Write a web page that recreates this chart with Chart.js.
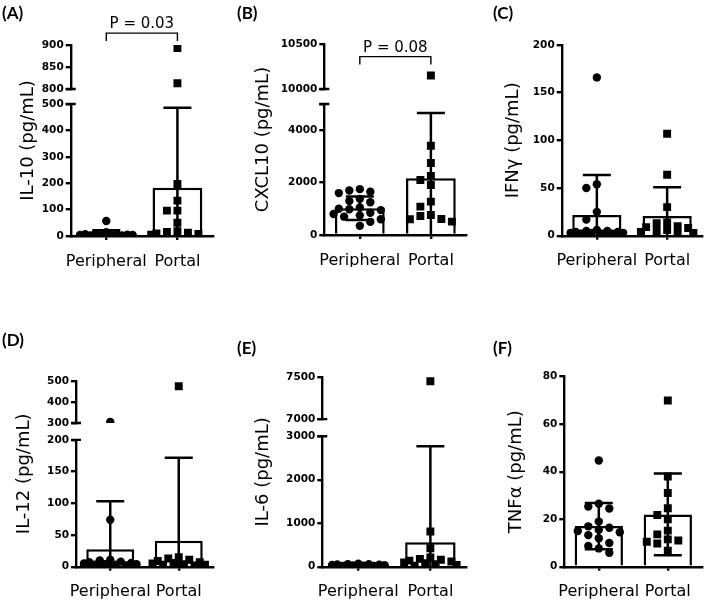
<!DOCTYPE html>
<html>
<head>
<meta charset="utf-8">
<script src="https://cdn.jsdelivr.net/npm/chart.js@4.4.1/dist/chart.umd.min.js"></script>
<style>
  html, body { margin: 0; padding: 0; background: #fff; }
  body { width: 708px; height: 603px; position: relative; overflow: hidden; }
  .panel { position: absolute; }
  .tag { position: absolute; font: bold 17px Lato, sans-serif; color: #000; line-height: 1; }
</style>
</head>
<body>
<div class="panel" style="left:0px;top:0px;width:236px;height:300px"><canvas id="cA"></canvas></div>
<div class="panel" style="left:236px;top:0px;width:236px;height:300px"><canvas id="cB"></canvas></div>
<div class="panel" style="left:472px;top:0px;width:236px;height:300px"><canvas id="cC"></canvas></div>
<div class="panel" style="left:0px;top:300px;width:236px;height:303px"><canvas id="cD"></canvas></div>
<div class="panel" style="left:236px;top:300px;width:236px;height:303px"><canvas id="cE"></canvas></div>
<div class="panel" style="left:472px;top:300px;width:236px;height:303px"><canvas id="cF"></canvas></div>
<div class="tag" style="left:2px;top:4px">(A)</div>
<div class="tag" style="left:237px;top:4px">(B)</div>
<div class="tag" style="left:493px;top:4px">(C)</div>
<div class="tag" style="left:2px;top:331px">(D)</div>
<div class="tag" style="left:237px;top:339px">(E)</div>
<div class="tag" style="left:493px;top:339px">(F)</div>
<script>
const groups = ['Peripheral', 'Portal'];

// (A) IL-10
const il10Peripheral = [57, 14, 10, 8, 7, 5, 4, 4, 3, 3, 2, 2, 2, 1, 1, 1];
const il10Portal = [893, 813, 197, 134, 96, 96, 50, 18, 15, 12, 10, 8, 5];
const il10Mean = [8, 183];
const il10Sd = [14, 303];
const il10LowTicks = [0, 100, 200, 300, 400, 500];
const il10HighTicks = [800, 850, 900];

// (B) CXCL10
const cxcl10Peripheral = [1750, 1700, 1650, 1600, 1380, 1300, 1250, 1050, 1000, 980, 950, 850, 800, 750, 700, 600, 500, 350];
const cxcl10Portal = [10150, 3405, 2745, 2257, 2100, 1910, 1275, 1084, 766, 728, 613, 600, 510];
const cxcl10Mean = [1020, 2170];
const cxcl10Sd = [450, 2490];
const cxcl10LowTicks = [0, 2000, 4000];
const cxcl10LowMax = 5000;
const cxcl10HighTicks = [10000, 10500];

// (C) IFNγ
const ifngPeripheral = [166, 54, 50, 25, 17, 6, 5, 5, 4, 4, 3, 3, 3, 2, 2, 2];
const ifngPortal = [107, 64, 30, 14, 13, 10, 9, 8, 6, 5, 4, 3, 2];
const ifngMean = [21.7, 20.7];
const ifngSd = [42, 30];
const ifngTicks = [0, 50, 100, 150, 200];

// (D) IL-12
const il12Peripheral = [305, 74, 11, 10, 8, 7, 6, 5, 4, 4, 3, 3, 2, 2, 2, 1];
const il12Portal = [475, 15, 13, 11, 9, 7, 6, 5, 4, 3, 3, 2, 2];
const il12Mean = [27.4, 41];
const il12Sd = [76, 131];
const il12LowTicks = [0, 50, 100, 150, 200];
const il12HighTicks = [300, 400, 500];

// (E) IL-6
const il6Peripheral = [70, 60, 55, 50, 45, 40, 35, 30, 25, 20, 20, 15, 10, 10, 5, 5];
const il6Portal = [7450, 808, 425, 210, 180, 160, 140, 120, 100, 80, 60, 40, 20];
const il6Mean = [31, 560];
const il6Sd = [20, 2210];
const il6LowTicks = [0, 1000, 2000, 3000];
const il6HighTicks = [7000, 7500];

// (F) TNFα
const tnfPeripheral = [44.7, 26.5, 25.3, 24.5, 19, 17, 16.4, 15.5, 15, 14.5, 13.3, 12, 10, 8.7, 7.7, 5.9];
const tnfPortal = [70, 38, 31, 24.6, 21.8, 20, 15.2, 13.6, 11.5, 11, 10.5, 9.8, 6.7];
const tnfMean = [17.1, 22.0];
const tnfSd = [9.7, 17.2];
const tnfTicks = [0, 20, 40, 60, 80];

Chart.defaults.font.family = '"DejaVu Sans", sans-serif';
Chart.defaults.color = '#000';

const LINE = 2.4;
const X_AXIS_H = 32;

// error bars drawn right after the bars, so the points sit on top
const errorBars = {
  id: 'errorBars',
  afterDatasetDraw(chart, args) {
    if (args.index !== 0) return;
    const ds = chart.data.datasets[0];
    const xs = chart.scales.x, ys = chart.scales.y;
    const ctx = chart.ctx;
    ctx.save();
    ctx.strokeStyle = '#000';
    ctx.lineWidth = 2.5;
    ds.data.forEach((m, i) => {
      const cx = xs.getPixelForValue(i);
      const hi = ys.getPixelForValue(m + ds.sd[i]);
      const loV = m - ds.sd[i];
      const lo = ys.getPixelForValue(Math.max(loV, 0));
      ctx.beginPath();
      ctx.moveTo(cx, hi); ctx.lineTo(cx, lo);
      ctx.moveTo(cx - 14, hi); ctx.lineTo(cx + 14, hi);
      if (loV > 0) { ctx.moveTo(cx - 14, lo); ctx.lineTo(cx + 14, lo); }
      ctx.stroke();
    });
    ctx.restore();
  }
};

// axis title, break marks and the P-value bracket
const decor = {
  id: 'decor',
  afterDraw(chart, args, o) {
    const { ctx, chartArea: a } = chart;
    ctx.save();
    ctx.fillStyle = '#000';
    ctx.strokeStyle = '#000';

    ctx.save();
    ctx.font = '18px "DejaVu Sans"';
    ctx.textAlign = 'center';
    ctx.textBaseline = 'middle';
    ctx.translate(o.titleX, (a.top + a.bottom) / 2);
    ctx.rotate(-Math.PI / 2);
    ctx.fillText(o.title, 0, 0);
    ctx.restore();

    if (chart.scales.yT) {
      ctx.lineWidth = LINE;
      ctx.beginPath();
      ctx.moveTo(a.left - 5, chart.scales.yT.bottom);
      ctx.lineTo(a.left + 5, chart.scales.yT.bottom);
      ctx.moveTo(a.left - 5, chart.scales.y.top);
      ctx.lineTo(a.left + 5, chart.scales.y.top);
      ctx.stroke();
    }

    if (o.pText) {
      const x0 = chart.scales.x.getPixelForValue(0);
      const x1 = chart.scales.x.getPixelForValue(1);
      const by = chart.scales.yT.getPixelForValue(o.pValue);
      ctx.lineWidth = 1.4;
      ctx.beginPath();
      ctx.moveTo(x0, by + 8); ctx.lineTo(x0, by); ctx.lineTo(x1, by); ctx.lineTo(x1, by + 8);
      ctx.stroke();
      ctx.font = '15px "DejaVu Sans"';
      ctx.textAlign = 'center';
      ctx.textBaseline = 'alphabetic';
      ctx.fillText(o.pText, (x0 + x1) / 2, by - 5);
    }
    ctx.restore();
  }
};

function yScale(ticksList, max, weight, width) {
  const s = {
    type: 'linear',
    position: 'left',
    min: ticksList[0],
    max: max,
    border: { color: '#000', width: LINE },
    grid: { drawOnChartArea: false, drawTicks: true, tickLength: 5, color: '#000', lineWidth: LINE },
    ticks: {
      color: '#000', padding: 2, autoSkip: false,
      font: { size: 10.5, weight: 'bold' },
      callback: (v) => ticksList.includes(v) ? String(v) : ''
    },
    afterBuildTicks: (axis) => {
      const vals = ticksList.includes(max) ? ticksList : ticksList.concat([max]);
      axis.ticks = vals.map(v => ({ value: v }));
    },
    afterFit: (axis) => { axis.width = width; }
  };
  if (weight) { s.stack = 'v'; s.stackWeight = weight; }
  return s;
}

// spread points of a column sideways so they do not sit on top of each other
function swarm(chart) {
  const xs = chart.scales.xj;
  const unit = xs.getPixelForValue(1) - xs.getPixelForValue(0);
  const step = 10.5;
  const slots = [0, -1, 1, -2, 2, -0.5, 0.5, -1.5, 1.5, -2.5, 2.5];
  [0, 1].forEach(g => {
    const pts = [];
    chart.data.datasets.forEach(ds => {
      if (ds.group !== g) return;
      const ys = chart.scales[ds.yAxisID];
      ds.data.forEach(p => pts.push({ p, py: ys.getPixelForValue(p.y) }));
    });
    pts.sort((a, b) => a.py - b.py);
    const placed = [];
    pts.forEach(pt => {
      let best = 0, bestCost = Infinity;
      for (const s of slots) {
        const dx = s * step;
        let cost = 0;
        placed.forEach(q => {
          const oy = Math.max(0, 8 - Math.abs(q.py - pt.py)) / 8;
          const ox = Math.max(0, step - Math.abs(q.dx - dx));
          cost += ox * ox * oy;
        });
        if (cost < bestCost - 1e-6) { best = dx; bestCost = cost; }
        if (cost === 0) break;
      }
      placed.push({ py: pt.py, dx: best });
      pt.p.x = g + best / unit;
    });
  });
  chart.update('none');
}

function makePanel(p) {
  const width = p.axisLeft - p.left;
  const splitAt = p.highTicks ? p.lowMax : Infinity;
  const pointSets = [];
  [p.peripheral, p.portal].forEach((vals, g) => {
    const style = g === 0 ? { pointStyle: 'circle', pointRadius: 4.2 } : { pointStyle: 'rect', pointRadius: 5.6 };
    const low = vals.filter(v => v <= splitAt).map(v => ({ x: g, y: v }));
    const high = vals.filter(v => v > splitAt).map(v => ({ x: g, y: v }));
    [[low, 'y'], [high, 'yT']].forEach(([data, axis]) => {
      if (!data.length) return;
      pointSets.push(Object.assign({
        type: 'scatter', data, group: g, xAxisID: 'xj', yAxisID: axis, order: 1,
        backgroundColor: '#000', borderWidth: 0
      }, style));
    });
  });

  const scales = {
    x: {
      type: 'category', offset: true,
      border: { color: '#000', width: LINE },
      grid: { offset: false, drawOnChartArea: false, drawTicks: true, tickLength: 4, color: '#000', lineWidth: LINE },
      ticks: { color: '#000', padding: 12, font: { size: 16 }, maxRotation: 0, autoSkip: false },
      afterFit: (axis) => { axis.height = X_AXIS_H; }
    },
    // hidden linear twin of the category axis, used to spread the points sideways
    xj: { type: 'linear', display: false, offset: false, grid: { offset: false }, min: -0.5, max: 1.5 }
  };
  if (p.highTicks) {
    scales.y = yScale(p.lowTicks, p.lowMax, p.weights[0], width);
    scales.yGap = {
      type: 'linear', position: 'left', stack: 'v', stackWeight: p.weights[1],
      border: { display: false }, grid: { display: false }, ticks: { display: false },
      afterFit: (axis) => { axis.width = width; }
    };
    scales.yT = yScale(p.highTicks, p.highTicks[p.highTicks.length - 1], p.weights[2], width);
  } else {
    scales.y = yScale(p.lowTicks, p.lowMax, 0, width);
  }

  const chart = new Chart(document.getElementById(p.id), {
    type: 'bar',
    data: {
      labels: groups,
      datasets: [{
        type: 'bar', data: p.mean, sd: p.sd, order: 3, grouped: false,
        backgroundColor: '#fff', borderColor: '#000', borderWidth: 2.5,
        categoryPercentage: 1, barPercentage: 0.7
      }].concat(pointSets)
    },
    options: {
      responsive: true,
      maintainAspectRatio: false,
      animation: false,
      events: [],
      layout: {
        padding: {
          left: 0,
          top: p.plotTop - p.top,
          right: p.left + 236 - p.plotRight,
          bottom: p.top + p.height - p.plotBottom - X_AXIS_H
        }
      },
      scales,
      plugins: {
        legend: { display: false },
        tooltip: { enabled: false },
        decor: { title: p.title, titleX: p.titleX - p.left, pText: p.pText || '', pValue: p.pValue || 0 }
      }
    },
    plugins: [errorBars, decor]
  });
  swarm(chart);
}

makePanel({ id: 'cA', left: 0, top: 0, height: 300, axisLeft: 70.7, plotTop: 45, plotRight: 213, plotBottom: 236,
  title: 'IL-10 (pg/mL)', titleX: 28, peripheral: il10Peripheral, portal: il10Portal, mean: il10Mean, sd: il10Sd,
  lowTicks: il10LowTicks, lowMax: 500, highTicks: il10HighTicks, weights: [132, 15, 44], pText: 'P = 0.03', pValue: 927 });
makePanel({ id: 'cB', left: 236, top: 0, height: 300, axisLeft: 324.3, plotTop: 44, plotRight: 472, plotBottom: 235,
  title: 'CXCL10 (pg/mL)', titleX: 263, peripheral: cxcl10Peripheral, portal: cxcl10Portal, mean: cxcl10Mean, sd: cxcl10Sd,
  lowTicks: cxcl10LowTicks, lowMax: cxcl10LowMax, highTicks: cxcl10HighTicks, weights: [131, 15, 45], pText: 'P = 0.08', pValue: 10360 });
makePanel({ id: 'cC', left: 472, top: 0, height: 300, axisLeft: 561.7, plotTop: 45, plotRight: 702.3, plotBottom: 235.7,
  title: 'IFNγ (pg/mL)', titleX: 513, peripheral: ifngPeripheral, portal: ifngPortal, mean: ifngMean, sd: ifngSd,
  lowTicks: ifngTicks, lowMax: 200 });
makePanel({ id: 'cD', left: 0, top: 300, height: 303, axisLeft: 76, plotTop: 381, plotRight: 213, plotBottom: 566.7,
  title: 'IL-12 (pg/mL)', titleX: 24, peripheral: il12Peripheral, portal: il12Portal, mean: il12Mean, sd: il12Sd,
  lowTicks: il12LowTicks, lowMax: 200, highTicks: il12HighTicks, weights: [127, 17, 42] });
makePanel({ id: 'cE', left: 236, top: 300, height: 303, axisLeft: 322.3, plotTop: 377, plotRight: 467.3, plotBottom: 566.7,
  title: 'IL-6 (pg/mL)', titleX: 263, peripheral: il6Peripheral, portal: il6Portal, mean: il6Mean, sd: il6Sd,
  lowTicks: il6LowTicks, lowMax: 3000, highTicks: il6HighTicks, weights: [130, 17, 42] });
makePanel({ id: 'cF', left: 472, top: 300, height: 303, axisLeft: 564.3, plotTop: 376.7, plotRight: 702.3, plotBottom: 566.7,
  title: 'TNFα (pg/mL)', titleX: 516.7, peripheral: tnfPeripheral, portal: tnfPortal, mean: tnfMean, sd: tnfSd,
  lowTicks: tnfTicks, lowMax: 80 });
</script>
</body>
</html>
